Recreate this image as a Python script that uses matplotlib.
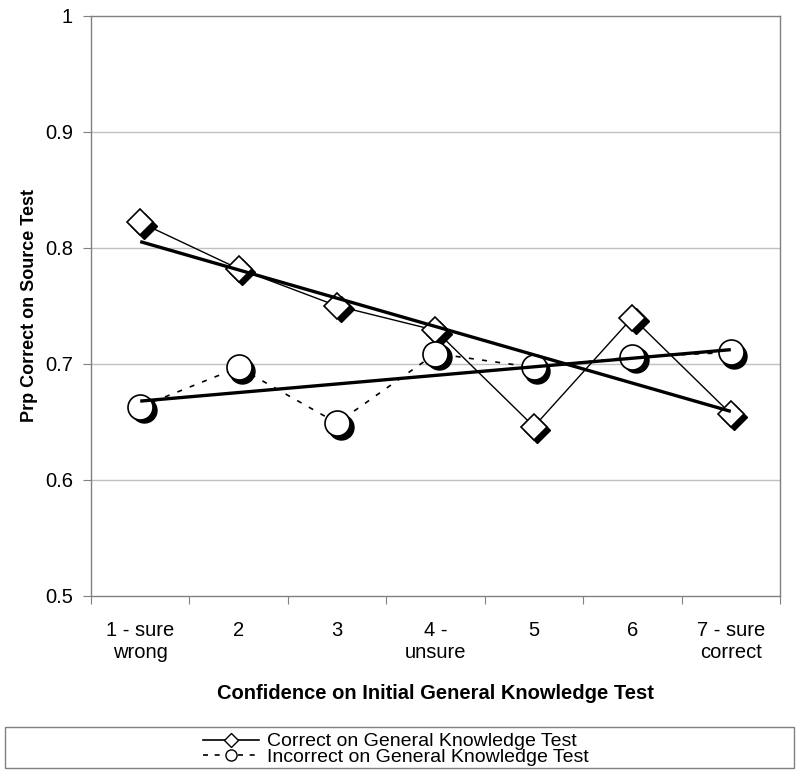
import numpy as np
import matplotlib
matplotlib.use("Agg")
import matplotlib.pyplot as plt
from matplotlib.lines import Line2D
from matplotlib.patches import Rectangle
from matplotlib.transforms import offset_copy

plt.rcParams['font.family'] = ['Liberation Sans', 'DejaVu Sans']

# confidence levels on the initial general knowledge test
categories = ["1 - sure\nwrong", "2", "3", "4 -\nunsure", "5", "6", "7 - sure\ncorrect"]
conf = np.arange(1, 8)

# proportion correct on the source test
correct_gk = [0.822, 0.782, 0.750, 0.729, 0.646, 0.740, 0.657]
incorrect_gk = [0.663, 0.697, 0.649, 0.709, 0.697, 0.706, 0.710]

yticks = [0.5, 0.6, 0.7, 0.8, 0.9, 1.0]

fig = plt.figure(figsize=(8, 7.78), dpi=100)
ax = fig.add_axes([0.11375, 0.234, 0.86125, 0.7455])

frame_col = '#808080'
grid_col = '#c0c0c0'

for y in yticks[1:-1]:
    ax.axhline(y, color=grid_col, linewidth=1, zorder=0)

# black drop shadow behind each marker
shadow = offset_copy(ax.transData, fig=fig, x=2.5, y=-2.5, units='points')

# raw series
ax.plot(conf, correct_gk, color='black', linewidth=1, zorder=2)
ax.plot(conf, incorrect_gk, color='black', linewidth=1.2, linestyle=(0, (3, 5)), zorder=2)

# linear trend lines
for series in (correct_gk, incorrect_gk):
    slope, icpt = np.polyfit(conf, series, 1)
    ax.plot([conf[0], conf[-1]], [icpt + slope * conf[0], icpt + slope * conf[-1]],
            color='black', linewidth=2.4, solid_capstyle='butt', zorder=5)

# markers with shadow
ax.plot(conf, correct_gk, linestyle='none', marker='D', ms=13, mfc='black', mec='black',
        transform=shadow, zorder=3)
ax.plot(conf, correct_gk, linestyle='none', marker='D', ms=13, mfc='white', mec='black',
        mew=1.2, zorder=4)
ax.plot(conf, incorrect_gk, linestyle='none', marker='o', ms=18, mfc='black', mec='black',
        transform=shadow, zorder=3)
ax.plot(conf, incorrect_gk, linestyle='none', marker='o', ms=18, mfc='white', mec='black',
        mew=1.2, zorder=4)

ax.set_xlim(0.5, 7.5)
ax.set_ylim(0.5, 1.0)
ax.set_yticks(yticks)
ax.set_yticklabels([f"{v:g}" for v in yticks])

ax.set_xticks(np.arange(0.5, 8, 1))
ax.set_xticklabels([])
ax.set_xticks(conf, minor=True)
ax.set_xticklabels(categories, minor=True)
ax.tick_params(axis='x', which='major', length=6, color=frame_col, direction='out')
ax.tick_params(axis='x', which='minor', length=0, pad=18, labelsize=14.5)
ax.tick_params(axis='y', length=6, color=frame_col, labelsize=14.5, pad=7)

for sp in ax.spines.values():
    sp.set_color(frame_col)
    sp.set_linewidth(1)

ax.set_xlabel("Confidence on Initial General Knowledge Test", fontsize=14.5,
              fontweight='bold', labelpad=16)
ax.set_ylabel("Prp Correct on Source Test", fontsize=13, fontweight='bold', labelpad=5)

# legend box spanning the figure width
fig.patches.append(Rectangle((5 / 800, 1 - 768 / 778), 789 / 800, 41 / 778,
                             transform=fig.transFigure, facecolor='white',
                             edgecolor=frame_col, linewidth=1))
handles = [
    Line2D([], [], color='black', linewidth=1.2, marker='D', ms=7, mfc='white', mec='black'),
    Line2D([], [], color='black', linewidth=1.2, linestyle=(0, (3, 4)), marker='o', ms=8,
           mfc='white', mec='black'),
]
fig.legend(handles, ["Correct on General Knowledge Test", "Incorrect on General Knowledge Test"],
           loc='center', bbox_to_anchor=(0.495, 1 - 749.5 / 778), frameon=False, fontsize=14,
           handlelength=2.9, handletextpad=0.4, labelspacing=-0.1, borderpad=0)

fig.savefig("out.png", dpi=100)
